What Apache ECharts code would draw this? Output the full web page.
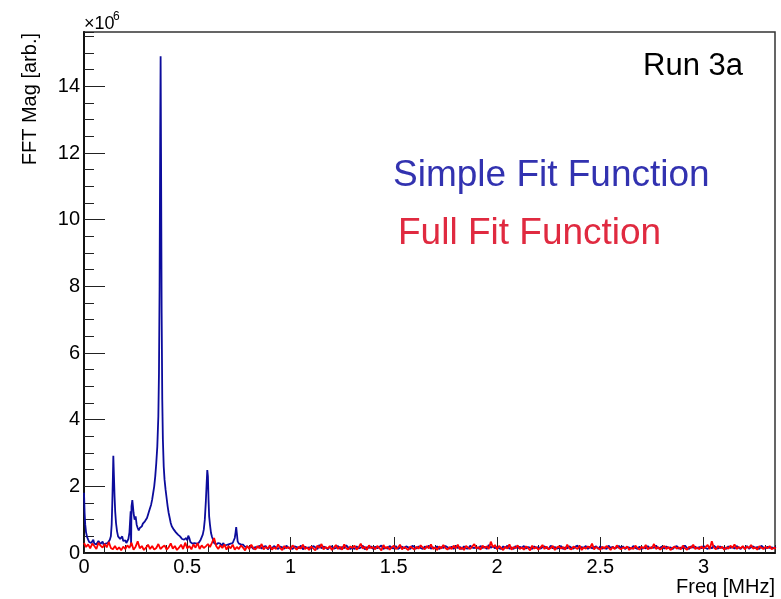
<!DOCTYPE html>
<html>
<head>
<meta charset="utf-8">
<script src="https://cdn.jsdelivr.net/npm/echarts@6/dist/echarts.min.js"></script>
<style>
  html, body { margin: 0; padding: 0; background: #fff; }
  #chart { width: 781px; height: 599px; }
</style>
</head>
<body>
<div id="chart"></div>
<script>
// FFT magnitude, units of 1e6 (arb.)

// blue (simple fit) -- low frequency part, sampled densely around the peaks
var blueLowFreq = [
  0, 0.003, 0.006, 0.01, 0.015, 0.02, 0.025, 0.03, 0.035, 0.04,
  0.045, 0.05, 0.055, 0.06, 0.065, 0.07, 0.075, 0.08, 0.085, 0.09,
  0.095, 0.1, 0.105, 0.11, 0.115, 0.12, 0.125, 0.13, 0.134, 0.137,
  0.14, 0.142, 0.145, 0.148, 0.151, 0.155, 0.16, 0.165, 0.17, 0.175,
  0.18, 0.185, 0.19, 0.195, 0.2, 0.205, 0.21, 0.215, 0.22, 0.224,
  0.226, 0.228, 0.23, 0.234, 0.237, 0.24, 0.245, 0.25, 0.255, 0.26,
  0.265, 0.27, 0.275, 0.28, 0.285, 0.29, 0.295, 0.3, 0.305, 0.31,
  0.315, 0.32, 0.325, 0.33, 0.335, 0.34, 0.345, 0.35, 0.355, 0.36,
  0.363, 0.366, 0.369, 0.371, 0.373, 0.376, 0.379, 0.382, 0.386, 0.39,
  0.395, 0.4, 0.405, 0.41, 0.415, 0.42, 0.425, 0.43, 0.435, 0.44,
  0.445, 0.45, 0.455, 0.46, 0.465, 0.47, 0.475, 0.48, 0.485, 0.49,
  0.495, 0.5, 0.505, 0.51, 0.515, 0.52, 0.525, 0.53, 0.535, 0.54,
  0.545, 0.55, 0.555, 0.56, 0.565, 0.57, 0.575, 0.58, 0.585, 0.59,
  0.594, 0.597, 0.6, 0.603, 0.606, 0.61, 0.615, 0.62, 0.625, 0.63,
  0.635, 0.64, 0.645, 0.65, 0.655, 0.66, 0.665, 0.67, 0.675, 0.68,
  0.685, 0.69, 0.695, 0.7, 0.705, 0.71, 0.715, 0.72, 0.725, 0.73,
  0.734, 0.737, 0.74, 0.744, 0.75, 0.755, 0.76, 0.765, 0.77, 0.775,
  0.78, 0.785, 0.79, 0.795
];
var blueLowMag = [
  1.81, 1.20, 0.85, 0.62, 0.48, 0.40, 0.33, 0.38, 0.30, 0.35,
  0.40, 0.28, 0.33, 0.26, 0.30, 0.36, 0.31, 0.27, 0.30, 0.34,
  0.25, 0.30, 0.28, 0.33, 0.30, 0.36, 0.40, 0.50, 0.85, 1.50,
  2.30, 2.92, 2.30, 1.70, 1.25, 0.90, 0.65, 0.50, 0.55, 0.42,
  0.42, 0.50, 0.36, 0.33, 0.38, 0.30, 0.35, 0.42, 0.62, 1.05,
  1.25, 0.20, 1.40, 1.59, 1.40, 1.20, 1.00, 1.10, 0.85, 0.75,
  0.68, 0.75, 0.70, 0.80, 0.88, 0.82, 0.95, 1.00, 1.05, 1.15,
  1.25, 1.35, 1.45, 1.60, 1.80, 2.00, 2.30, 2.70, 3.20, 4.10,
  5.40, 8.00, 12.5, 14.9, 12.0, 7.20, 4.60, 3.40, 2.60, 2.20,
  1.90, 1.65, 1.40, 1.20, 1.05, 0.90, 0.80, 0.85, 0.70, 0.75,
  0.62, 0.68, 0.55, 0.60, 0.50, 0.55, 0.42, 0.48, 0.40, 0.34,
  0.45, 0.38, 0.52, 0.45, 0.33, 0.36, 0.28, 0.32, 0.30, 0.35,
  0.28, 0.33, 0.30, 0.36, 0.40, 0.45, 0.55, 0.70, 1.00, 1.55,
  2.10, 2.49, 2.30, 1.60, 1.10, 0.85, 0.60, 0.48, 0.40, 0.30,
  0.35, 0.25, 0.22, 0.30, 0.24, 0.28, 0.20, 0.26, 0.30, 0.22,
  0.27, 0.24, 0.30, 0.26, 0.22, 0.28, 0.25, 0.30, 0.35, 0.45,
  0.62, 0.78, 0.60, 0.35, 0.28, 0.22, 0.26, 0.20, 0.25, 0.22,
  0.18, 0.24, 0.20, 0.22
];

// bins of 0.01 MHz from 0 to 3.35
var binWidth = 0.01;

// red (full fit) -- one value per bin, starting at 0
var redMag = [
  0.30, 0.18, 0.26, 0.14, 0.28, 0.21, 0.12, 0.31, 0.22, 0.16,
  0.27, 0.17, 0.33, 0.15, 0.11, 0.21, 0.10, 0.17, 0.08, 0.19,
  0.12, 0.23, 0.15, 0.31, 0.10, 0.19, 0.35, 0.14, 0.21, 0.09,
  0.16, 0.25, 0.12, 0.21, 0.10, 0.15, 0.27, 0.12, 0.18, 0.23,
  0.10, 0.17, 0.29, 0.13, 0.21, 0.09, 0.16, 0.25, 0.12, 0.31,
  0.14, 0.21, 0.11, 0.26, 0.16, 0.30, 0.12, 0.23, 0.15, 0.20,
  0.27, 0.18, 0.31, 0.45, 0.21, 0.12, 0.23, 0.15, 0.26, 0.10,
  0.21, 0.14, 0.25, 0.10, 0.18, 0.12, 0.23, 0.16, 0.08, 0.21,
  0.12, 0.25, 0.15, 0.10, 0.21, 0.14, 0.27, 0.11, 0.18, 0.13,
  0.23, 0.10, 0.17, 0.12, 0.26, 0.15, 0.09, 0.21, 0.14, 0.18,
  0.11, 0.23, 0.16, 0.10, 0.19, 0.13, 0.25, 0.12, 0.17, 0.09,
  0.20, 0.14, 0.08, 0.22, 0.15, 0.27, 0.11, 0.18, 0.13, 0.21,
  0.09, 0.16, 0.24, 0.12, 0.19, 0.10, 0.26, 0.14, 0.11, 0.20,
  0.15, 0.22, 0.10, 0.17, 0.28, 0.13, 0.19, 0.09, 0.23, 0.14,
  0.18, 0.11, 0.21, 0.15, 0.08, 0.24, 0.13, 0.19, 0.10, 0.17,
  0.22, 0.12, 0.16, 0.25, 0.11, 0.18, 0.14, 0.09, 0.20, 0.15,
  0.10, 0.19, 0.13, 0.23, 0.16, 0.11, 0.21, 0.14, 0.26, 0.12,
  0.17, 0.09, 0.20, 0.13, 0.24, 0.15, 0.10, 0.18, 0.12, 0.22,
  0.14, 0.25, 0.11, 0.17, 0.09, 0.21, 0.16, 0.12, 0.19, 0.27,
  0.13, 0.18, 0.10, 0.22, 0.15, 0.20, 0.12, 0.34, 0.17, 0.24,
  0.11, 0.21, 0.15, 0.09, 0.19, 0.13, 0.26, 0.10, 0.18, 0.14,
  0.23, 0.12, 0.17, 0.10, 0.20, 0.15, 0.08, 0.22, 0.13, 0.18,
  0.10, 0.16, 0.24, 0.12, 0.19, 0.11, 0.15, 0.21, 0.09, 0.17,
  0.20, 0.13, 0.18, 0.10, 0.25, 0.14, 0.11, 0.19, 0.16, 0.12,
  0.22, 0.09, 0.17, 0.13, 0.20, 0.15, 0.28, 0.11, 0.18, 0.14,
  0.10, 0.19, 0.13, 0.21, 0.16, 0.09, 0.18, 0.12, 0.23, 0.15,
  0.11, 0.17, 0.14, 0.20, 0.09, 0.16, 0.12, 0.22, 0.15, 0.10,
  0.19, 0.13, 0.24, 0.11, 0.17, 0.14, 0.27, 0.12, 0.18, 0.10,
  0.16, 0.21, 0.12, 0.18, 0.09, 0.15, 0.20, 0.13, 0.17, 0.11,
  0.22, 0.14, 0.10, 0.19, 0.15, 0.25, 0.12, 0.17, 0.11, 0.20,
  0.13, 0.18, 0.24, 0.12, 0.35, 0.16, 0.11, 0.21, 0.14, 0.19,
  0.10, 0.17, 0.13, 0.22, 0.15, 0.26, 0.12, 0.18, 0.14, 0.21,
  0.11, 0.19, 0.15, 0.24, 0.13, 0.17, 0.10, 0.20, 0.16, 0.12,
  0.18, 0.14, 0.21, 0.11, 0.16, 0.13
];

// blue (simple fit) -- tail, one value per bin starting at bin 80 (0.80 MHz)
var blueTailStart = 80;
var blueTailMag = [
  0.15, 0.20, 0.12, 0.18, 0.16, 0.22, 0.13, 0.19, 0.21, 0.11,
  0.18, 0.14, 0.21, 0.16, 0.12, 0.19, 0.17, 0.13, 0.22, 0.15,
  0.16, 0.12, 0.20, 0.18, 0.14, 0.22, 0.11, 0.19, 0.15, 0.17,
  0.13, 0.21, 0.17, 0.12, 0.24, 0.14, 0.19, 0.16, 0.11, 0.18,
  0.20, 0.13, 0.15, 0.21, 0.12, 0.18, 0.14, 0.23, 0.16, 0.12,
  0.17, 0.12, 0.20, 0.14, 0.16, 0.22, 0.11, 0.18, 0.15, 0.20,
  0.12, 0.19, 0.14, 0.18, 0.23, 0.12, 0.17, 0.13, 0.21, 0.15,
  0.14, 0.21, 0.12, 0.16, 0.19, 0.14, 0.20, 0.17, 0.12, 0.22,
  0.18, 0.13, 0.20, 0.15, 0.12, 0.19, 0.16, 0.22, 0.13, 0.17,
  0.14, 0.20, 0.12, 0.18, 0.15, 0.21, 0.17, 0.13, 0.19, 0.12,
  0.21, 0.15, 0.18, 0.12, 0.20, 0.14, 0.13, 0.22, 0.16, 0.15,
  0.17, 0.13, 0.21, 0.15, 0.19, 0.12, 0.24, 0.16, 0.20, 0.14,
  0.19, 0.14, 0.12, 0.20, 0.15, 0.22, 0.13, 0.17, 0.12, 0.21,
  0.14, 0.19, 0.15, 0.21, 0.13, 0.18, 0.16, 0.12, 0.20, 0.15,
  0.18, 0.13, 0.17, 0.20, 0.15, 0.12, 0.22, 0.14, 0.18, 0.13,
  0.15, 0.21, 0.12, 0.17, 0.14, 0.20, 0.16, 0.13, 0.19, 0.22,
  0.13, 0.18, 0.15, 0.21, 0.12, 0.19, 0.14, 0.17, 0.20, 0.12,
  0.20, 0.13, 0.17, 0.12, 0.22, 0.15, 0.19, 0.14, 0.16, 0.21,
  0.15, 0.20, 0.12, 0.18, 0.16, 0.13, 0.21, 0.15, 0.12, 0.19,
  0.12, 0.17, 0.14, 0.21, 0.13, 0.18, 0.15, 0.22, 0.14, 0.16,
  0.19, 0.13, 0.20, 0.15, 0.17, 0.12, 0.18, 0.21, 0.13, 0.16,
  0.14, 0.22, 0.15, 0.12, 0.20, 0.16, 0.19, 0.13, 0.18, 0.14,
  0.21, 0.15, 0.12, 0.19, 0.14, 0.22, 0.17, 0.13, 0.20, 0.15,
  0.16, 0.12, 0.20, 0.15, 0.18, 0.13, 0.21, 0.16, 0.12, 0.19,
  0.14, 0.21, 0.13, 0.17, 0.20, 0.15, 0.18, 0.12, 0.22, 0.16,
  0.13, 0.19, 0.15, 0.17, 0.14, 0.18
];

var xMax = 3.346;
var yMax = 15.63;
var xTickStep = 0.5;
var yTickStep = 2;

var font = "'Liberation Sans', Arial, Helvetica, sans-serif";

function binFreq(i) {
  return Math.round(i * binWidth * 1000) / 1000;
}

var redData = redMag.map(function (v, i) { return [binFreq(i), v]; });
var blueData = blueLowMag.map(function (v, i) { return [blueLowFreq[i], v]; })
  .concat(blueTailMag.map(function (v, i) { return [binFreq(blueTailStart + i), v]; }));

function onStep(v, step) {
  return Math.abs(v / step - Math.round(v / step)) < 1e-6;
}

var chart = echarts.init(document.getElementById('chart'));
chart.setOption({
  animation: false,
  backgroundColor: '#fff',
  grid: {
    left: 84, right: 6, top: 32, bottom: 46,
    show: true,
    borderColor: '#333',
    borderWidth: 1.5,
    backgroundColor: 'transparent'
  },
  xAxis: [
    {
      type: 'value', min: 0, max: xMax, interval: xTickStep,
      axisLine: { lineStyle: { color: '#111', width: 2 } },
      axisTick: { inside: true, length: 16, lineStyle: { color: '#222', width: 1 } },
      axisLabel: {
        color: '#000', fontSize: 20, fontFamily: font, margin: 4,
        showMaxLabel: false,
        formatter: function (v) { return onStep(v, xTickStep) ? String(v) : ''; }
      },
      splitLine: { show: false }
    },
    {
      type: 'value', min: 0, max: xMax, interval: 0.1, position: 'bottom',
      axisLine: { show: false },
      axisTick: { inside: true, length: 8, lineStyle: { color: '#222', width: 1 } },
      axisLabel: { show: false },
      splitLine: { show: false }
    }
  ],
  yAxis: [
    {
      type: 'value', min: 0, max: yMax, interval: yTickStep,
      axisLine: { show: true, lineStyle: { color: '#111', width: 2 } },
      axisTick: { show: true, inside: true, length: 21, lineStyle: { color: '#222', width: 1 } },
      axisLabel: {
        color: '#000', fontSize: 20, fontFamily: font, margin: 4,
        showMaxLabel: false,
        formatter: function (v) { return onStep(v, yTickStep) ? String(v) : ''; }
      },
      splitLine: { show: false }
    },
    {
      type: 'value', min: 0, max: yMax, interval: 0.5, position: 'left',
      axisLine: { show: false },
      axisTick: { show: true, inside: true, length: 10, lineStyle: { color: '#222', width: 1 } },
      axisLabel: { show: false },
      splitLine: { show: false }
    }
  ],
  series: [
    {
      name: 'Simple Fit Function',
      type: 'line',
      data: blueData,
      showSymbol: false,
      symbol: 'none',
      sampling: null,
      lineStyle: { color: '#0c0c9c', width: 1.8 },
      z: 2
    },
    {
      name: 'Full Fit Function',
      type: 'line',
      data: redData,
      showSymbol: false,
      symbol: 'none',
      lineStyle: { color: '#ff0000', width: 1.8 },
      z: 3
    }
  ],
  graphic: [
    { type: 'text', x: 84, y: 24, style: { text: '×10', font: '18px ' + font, fill: '#000', textVerticalAlign: 'middle' } },
    { type: 'text', x: 113, y: 17, style: { text: '6', font: '12px ' + font, fill: '#000', textVerticalAlign: 'middle' } },
    { type: 'text', x: 30, y: 33, rotation: Math.PI / 2,
      style: { text: 'FFT Mag [arb.]', font: '20px ' + font, fill: '#000', textAlign: 'right', textVerticalAlign: 'middle' } },
    { type: 'text', x: 775, y: 587, style: { text: 'Freq [MHz]', font: '20px ' + font, fill: '#000', textAlign: 'right', textVerticalAlign: 'middle' } },
    { type: 'text', x: 643, y: 66, style: { text: 'Run 3a', font: '31px ' + font, fill: '#000', textVerticalAlign: 'middle' } },
    { type: 'text', x: 393, y: 176, style: { text: 'Simple Fit Function', font: '37px ' + font, fill: '#3232b0', textVerticalAlign: 'middle' } },
    { type: 'text', x: 398, y: 233.5, style: { text: 'Full Fit Function', font: '37px ' + font, fill: '#e02a40', textVerticalAlign: 'middle' } }
  ]
});
</script>
</body>
</html>
